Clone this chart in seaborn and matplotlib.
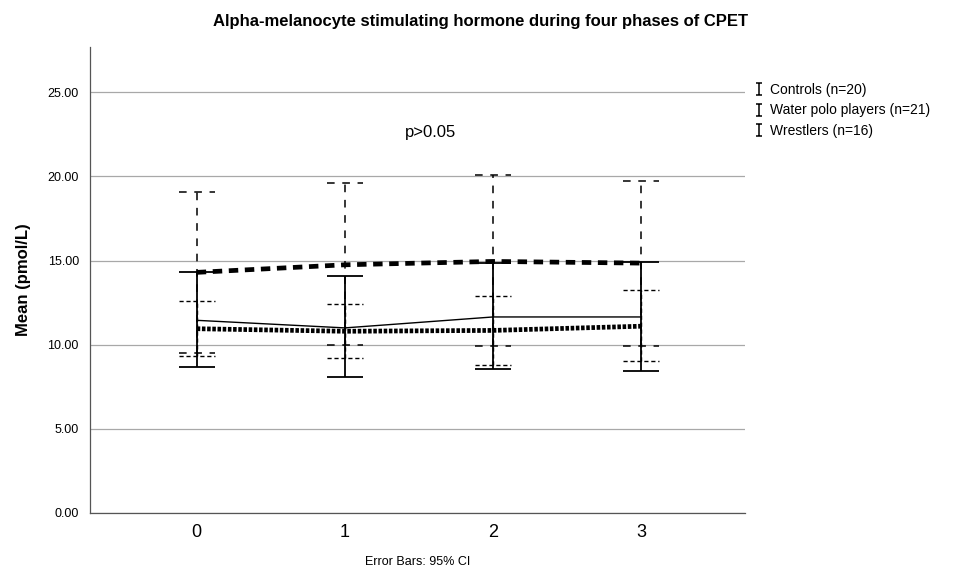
import numpy as np
import pandas as pd
import seaborn as sns
import matplotlib.pyplot as plt
from matplotlib.lines import Line2D
from matplotlib.path import Path

# Data
phases = [0, 1, 2, 3]
groups = ["Controls (n=20)", "Water polo players (n=21)", "Wrestlers (n=16)"]

controls_mean = [11.45, 11.0, 11.65, 11.65]
controls_lo = [8.65, 8.1, 8.55, 8.45]
controls_hi = [14.35, 14.1, 14.85, 14.9]

polo_mean = [10.95, 10.8, 10.85, 11.1]
polo_lo = [9.3, 9.2, 8.8, 9.05]
polo_hi = [12.6, 12.4, 12.9, 13.25]

wrestlers_mean = [14.3, 14.75, 14.95, 14.85]
wrestlers_lo = [9.5, 10.0, 9.95, 9.9]
wrestlers_hi = [19.1, 19.6, 20.1, 19.75]

yticks = [0, 5, 10, 15, 20, 25]

sns.set_style("white")
plt.rcParams["font.family"] = ["Liberation Sans", "DejaVu Sans"]
plt.rcParams["text.color"] = "black"
plt.rcParams["axes.labelcolor"] = "black"
plt.rcParams["xtick.color"] = "black"
plt.rcParams["ytick.color"] = "black"

df = pd.DataFrame({
    "phase": phases * 3,
    "mean": controls_mean + polo_mean + wrestlers_mean,
    "group": [g for g in groups for _ in phases],
})

fig = plt.figure(figsize=(9.61, 5.74), dpi=100)
ax = fig.add_axes([0.0937, 0.1063, 0.6815, 0.812])

# Error bars (vertical line + caps), styled per group
cap = 0.12
bar_styles = [
    (controls_lo, controls_hi, (0, (1, 0)), 1.3, 3),
    (polo_lo, polo_hi, (0, (3, 2)), 1.0, 2),
    (wrestlers_lo, wrestlers_hi, (0, (5, 5)), 1.1, 1),
]
for lo, hi, ls, lw, z in bar_styles:
    ax.vlines(phases, lo, hi, colors="black", linestyles=[ls], linewidth=lw, zorder=z)
    ax.hlines(lo, np.array(phases) - cap, np.array(phases) + cap,
              colors="black", linestyles=[ls], linewidth=lw, zorder=z)
    ax.hlines(hi, np.array(phases) - cap, np.array(phases) + cap,
              colors="black", linestyles=[ls], linewidth=lw, zorder=z)

# Mean lines
sns.lineplot(data=df, x="phase", y="mean", hue="group", style="group",
             palette=["black"] * 3,
             dashes={groups[0]: "", groups[1]: (0.75, 0.35), groups[2]: (2.0, 1.4)},
             size="group", sizes={groups[0]: 1.0, groups[1]: 3.4, groups[2]: 3.4},
             legend=False, ax=ax, zorder=4)

# Axes
ax.set_xlim(-0.72, 3.7)
ax.set_ylim(0, 27.7)
ax.set_xticks(phases)
ax.set_xticklabels([str(p) for p in phases], fontsize=13)
ax.set_yticks(yticks)
ax.set_yticklabels([f"{v:.2f}" for v in yticks], fontsize=9)
ax.yaxis.grid(True, color="#a8a8a8", linewidth=0.9)
ax.set_axisbelow(True)
for s in ["top", "right"]:
    ax.spines[s].set_visible(False)
for s in ["left", "bottom"]:
    ax.spines[s].set_color("#555555")
    ax.spines[s].set_linewidth(0.9)
ax.tick_params(axis="both", length=0, pad=8)

ax.set_ylabel("Mean (pmol/L)", fontsize=12, fontweight="bold", labelpad=12)
ax.set_xlabel("Error Bars: 95% CI", fontsize=9, labelpad=11)

ax.text(1.58, 22.6, "p>0.05", fontsize=12, ha="center", va="center")

fig.suptitle("Alpha-melanocyte stimulating hormone during four phases of CPET",
             x=0.5, y=0.975, fontsize=12, fontweight="bold",
             family=["Liberation Sans Narrow", "Liberation Sans", "DejaVu Sans"])

# Legend with small error-bar glyphs
ibar = Path([(-0.45, 1), (0.45, 1), (0, 1), (0, -1), (-0.45, -1), (0.45, -1)],
            [Path.MOVETO, Path.LINETO, Path.MOVETO, Path.LINETO, Path.MOVETO, Path.LINETO])
handles = [Line2D([], [], color="black", marker=ibar, linestyle="None",
                  markersize=9, markeredgewidth=1.1, fillstyle="none") for _ in groups]
ax.legend(handles, groups, loc="upper left", bbox_to_anchor=(1.0, 0.94),
          frameon=False, fontsize=10, handlelength=0.8, handletextpad=0.4,
          labelspacing=0.45, borderaxespad=0.2)

fig.savefig("out.png", dpi=100)
